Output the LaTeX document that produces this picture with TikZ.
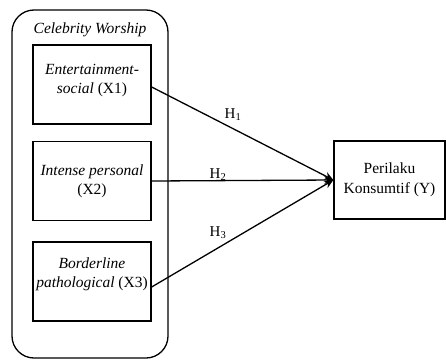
\documentclass[tikz,border=0pt]{standalone}
\usepackage{fontspec}
\setmainfont{Liberation Serif}
\usetikzlibrary{arrows.meta}
\begin{document}
\begin{tikzpicture}[x=1pt,y=-1pt,
  box/.style={draw,line width=1.3pt,minimum width=118pt,minimum height=79pt,inner sep=0pt},
  ybox/.style={draw,line width=1.3pt,minimum width=111pt,minimum height=78pt,inner sep=0pt,align=center,font=\fontsize{15.5}{20}\selectfont},
  txt/.style={align=center,inner sep=0pt,font=\fontsize{15.5}{19}\selectfont},
  hlab/.style={inner sep=0pt,font=\fontsize{15}{17}\selectfont},
  conn/.style={line width=1.3pt,-{Stealth[length=9pt,width=8pt]}}]
\useasboundingbox (0,0) rectangle (446,359);
\draw[line width=1.3pt,rounded corners=22pt] (12,10) rectangle (168,358);
\node[txt] (cw) at (90,30) {\itshape Celebrity Worship};
\node[box] (b1) at (92,84.5) {};
\node[box] (b2) at (92,181) {};
\node[box] (b3) at (92,281.5) {};
\node[txt] (t1) at (92,81) {\itshape Entertainment-\\\itshape social \upshape(X1)};
\node[txt] (t2) at (92,181) {\itshape Intense personal\\(X2)};
\node[txt] (t3) at (92,274) {\itshape Borderline\\\itshape pathological \upshape(X3)};
\node[ybox] (y) at (389.5,180) {Perilaku\\Konsumtif (Y)};
\draw[conn] ([yshift=-2.5pt]b1.east) -- (y.west);
\draw[conn] (b2.east) -- (y.west);
\draw[conn] ([yshift=-5.5pt]b3.east) -- (y.west);
\node[hlab] (h1) at (233,115) {H\textsubscript{1}};
\node[hlab] (h2) at (218,175) {H\textsubscript{2}};
\node[hlab] (h3) at (218,233) {H\textsubscript{3}};
\end{tikzpicture}
\end{document}
